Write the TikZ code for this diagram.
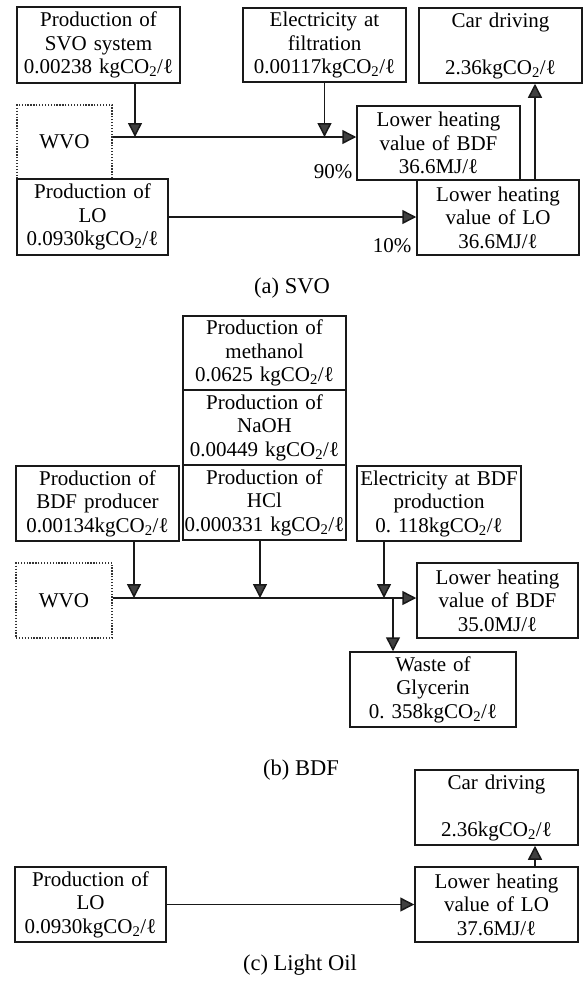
\documentclass[tikz,border=0pt]{standalone}
\usepackage{fontspec}
\setmainfont{Liberation Serif}
\usetikzlibrary{arrows.meta}
\frenchspacing
\begin{document}
\begin{tikzpicture}[x=1pt,y=-1pt,
  every node/.style={font=\fontsize{21}{23.5}\selectfont, text=black},
  box/.style={draw=black!90, line width=1.5pt, inner sep=0pt, align=center},
  wvobox/.style={draw=black!80, line width=1.4pt, dash pattern=on 1.3pt off 1.6pt, inner sep=0pt, align=center},
  sz/.style 2 args={text width=#1pt, minimum height=#2pt},
  arr/.style={draw=black!90, line width=1.5pt, -{Triangle[width=14pt,length=14pt,fill=black!75]}},
  captxt/.style={font=\fontsize{22.5}{26}\selectfont}
]
\useasboundingbox (0,0) rectangle (585,983);
\newcommand{\kgco}{kgCO\textsubscript{2}/ℓ}
% ---------- (a) SVO ----------
\node[box, sz={163}{76}] (svo) at (98.5,45) {Production of\\SVO system\\0.00238 \kgco};
\node[box, sz={163}{74}] (elf) at (324.5,45) {Electricity at\\filtration\\0.00117\kgco};
\node[box, sz={163}{75}] (cara) at (500.5,45.5) {Car driving\\\mbox{}\\2.36\kgco};
\node[wvobox, minimum width=95pt, minimum height=74pt] (wvoa) at (64.5,142) {WVO};
\node[box, sz={163}{74}] (bdfa) at (438.5,143) {Lower heating\\value of BDF\\36.6MJ/ℓ};
\node[box, sz={162}{75}] (loa) at (498,217.5) {Lower heating\\value of LO\\36.6MJ/ℓ};
\node[box, sz={151}{76}] (plo) at (92.5,217) {Production of\\LO\\0.0930\kgco};
\coordinate (ja1) at (135,137);
\coordinate (ka) at (535,0);
\draw[arr] (svo.south -| ja1) -- (ja1);
\draw[arr] (elf.south) -- (elf.south |- ja1);
\draw[arr] (wvoa.east |- ja1) -- (bdfa.west |- ja1);
\draw[arr] (plo.east) -- (plo.east -| loa.west);
\draw[arr] (loa.north -| ka) -- (cara.south -| ka);
\node[anchor=east] (p90) at (356,172) {90\%};
\node[anchor=east] (p10) at (415,246) {10\%};
\node[captxt] (capa) at (292,288) {(a) SVO};
% ---------- (b) BDF ----------
\node[box, sz={163}{74}] (meth) at (264.5,353) {Production of\\methanol\\0.0625 \kgco};
\node[box, sz={163}{75}] (naoh) at (264.5,427.5) {Production of\\NaOH\\0.00449 \kgco};
\node[box, sz={163}{75}] (hcl) at (264.5,502.5) {Production of\\HCl\\0.000331 \kgco};
\node[box, sz={163}{75}] (bprod) at (97.5,503.5) {Production of\\BDF producer\\0.00134\kgco};
\node[box, sz={164}{75}] (elb) at (439,503.5) {Electricity at BDF\\production\\0. 118\kgco};
\node[wvobox, minimum width=96pt, minimum height=75pt] (wvob) at (64,600.5) {WVO};
\node[box, sz={161}{75}] (lhvb) at (497.5,600.5) {Lower heating\\value of BDF\\35.0MJ/ℓ};
\node[box, sz={166}{75}] (waste) at (433,689.5) {Waste of\\Glycerin\\0. 358\kgco};
\coordinate (jb1) at (134,598);
\coordinate (jb2) at (260,598);
\coordinate (jb3) at (384,598);
\coordinate (jb4) at (393,598);
\draw[arr] (bprod.south -| jb1) -- (jb1);
\draw[arr] (hcl.south -| jb2) -- (jb2);
\draw[arr] (elb.south -| jb3) -- (jb3);
\draw[arr] (wvob.east |- jb1) -- (lhvb.west |- jb1);
\draw[arr] (jb4) -- (waste.north -| jb4);
\node[captxt] (capb) at (301,770) {(b) BDF};
% ---------- (c) Light Oil ----------
\node[box, sz={163}{75}] (carc) at (496.5,807.5) {Car driving\\\mbox{}\\2.36\kgco};
\node[box, sz={163}{75}] (loc) at (496.5,904.5) {Lower heating\\value of LO\\37.6MJ/ℓ};
\node[box, sz={151}{75}] (ploc) at (90.5,904.5) {Production of\\LO\\0.0930\kgco};
\coordinate (kc) at (535,0);
\draw[arr] (ploc.east) -- (loc.west);
\draw[arr] (loc.north -| kc) -- (carc.south -| kc);
\node[captxt] (capc) at (300,965) {(c) Light Oil};
\end{tikzpicture}
\end{document}
